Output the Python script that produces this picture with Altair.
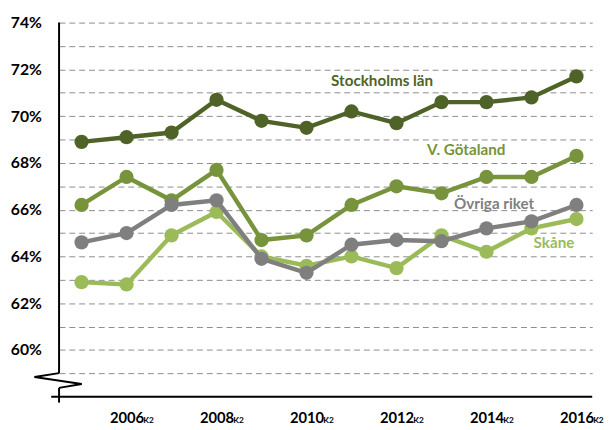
import altair as alt
import pandas as pd

years = list(range(2005, 2017))
stockholm = [68.9, 69.1, 69.3, 70.7, 69.8, 69.5, 70.2, 69.7, 70.6, 70.6, 70.8, 71.7]
vgotaland = [66.2, 67.4, 66.4, 67.7, 64.7, 64.9, 66.2, 67.0, 66.7, 67.4, 67.4, 68.3]
ovriga = [64.6, 65.0, 66.2, 66.4, 63.9, 63.3, 64.5, 64.7, 64.65, 65.2, 65.5, 66.2]
skane = [62.9, 62.8, 64.9, 65.9, 64.0, 63.6, 64.0, 63.5, 64.9, 64.2, 65.2, 65.6]

series_names = ["Stockholms län", "V. Götaland", "Övriga riket", "Skåne"]
series_values = [stockholm, vgotaland, ovriga, skane]
colors = ["#4f6228", "#77933c", "#7f7f7f", "#9bbb59"]
draw_order = ["Skåne", "V. Götaland", "Övriga riket", "Stockholms län"]

y_ticks = list(range(59, 75))
x_label_years = [2006, 2008, 2010, 2012, 2014, 2016]
x_label_suffix = "K2"

# annotation label anchors (data coordinates)
label_x = [2011.68, 2013.55, 2014.17, 2015.5]
label_y = [71.52, 68.55, 66.22, 64.55]

W, H = 543, 381
FONT = "Lato"

rows = []
for name, vals in zip(series_names, series_values):
    for yr, v in zip(years, vals):
        rows.append({"series": name, "year": yr, "value": v})
df = pd.DataFrame(rows)
color_of = dict(zip(series_names, colors))

x_scale = alt.Scale(domain=[2004.5, 2016.35], nice=False, zero=False)
y_scale = alt.Scale(domain=[58, 74], nice=False, zero=False)

x_enc = alt.X(
    "year:Q", scale=x_scale, title=None,
    axis=alt.Axis(values=x_label_years, format="d", grid=False, domain=False,
                  ticks=False, tickSize=0, labelPadding=14, labelFont=FONT,
                  labelFontSize=15, labelFontWeight="bold", labelColor="#000000"),
)
y_enc = alt.Y(
    "value:Q", scale=y_scale, title=None,
    axis=alt.Axis(values=y_ticks,
                  labelExpr="datum.value % 2 == 0 ? datum.value + '%' : ''",
                  grid=True, gridDash=[6, 4], gridColor="#8c8c8c", gridWidth=1,
                  domain=False, ticks=False, tickSize=0, labelPadding=18,
                  labelFont=FONT, labelFontSize=16, labelFontWeight="bold",
                  labelColor="#000000"),
)

layers = []
for name in draw_order:
    c = color_of[name]
    sub = df[df["series"] == name]
    line = alt.Chart(sub).mark_line(color=c, strokeWidth=4.5).encode(x=x_enc, y=y_enc)
    pts = alt.Chart(sub).mark_circle(color=c, size=210, opacity=1).encode(x=x_enc, y=y_enc)
    layers += [line, pts]

lab_df = pd.DataFrame({"text": series_names, "year": label_x, "value": label_y, "color": colors})
labels = alt.Chart(lab_df).mark_text(font=FONT, fontSize=15.5, fontWeight="bold",
                                     align="center", baseline="middle").encode(
    x=x_enc, y=y_enc, text="text:N", color=alt.Color("color:N", scale=None)
)

suf_df = pd.DataFrame({"year": x_label_years, "suffix": [x_label_suffix] * len(x_label_years)})
suffix = alt.Chart(suf_df).mark_text(font=FONT, fontSize=8.5, fontWeight="bold",
                                     align="left", baseline="middle", dx=17,
                                     color="#000000").encode(
    x=x_enc, y=alt.value(H + 24), text="suffix:N"
)

one = pd.DataFrame({"a": [0]})
def seg(x1, y1, x2, y2):
    return alt.Chart(one).mark_rule(color="#000000", strokeWidth=2).encode(
        x=alt.value(x1), x2=alt.value(x2), y=alt.value(y1), y2=alt.value(y2))

axis_parts = [
    seg(0, 0, 0, 357),
    seg(0, 357, -25, 361),
    seg(-25, 361, 23, 368),
    seg(23, 368, 0, 372),
    seg(0, 372, 0, 387),
    seg(-8, H, W, H),
]

chart = alt.layer(*layers, labels, suffix, *axis_parts).properties(
    width=W, height=H,
    padding={"left": 2, "top": 3, "right": 0, "bottom": 0},
    background="#ffffff",
).configure_view(stroke=None)

chart.save("out.html", embed_options={"renderer": "svg", "actions": False})
